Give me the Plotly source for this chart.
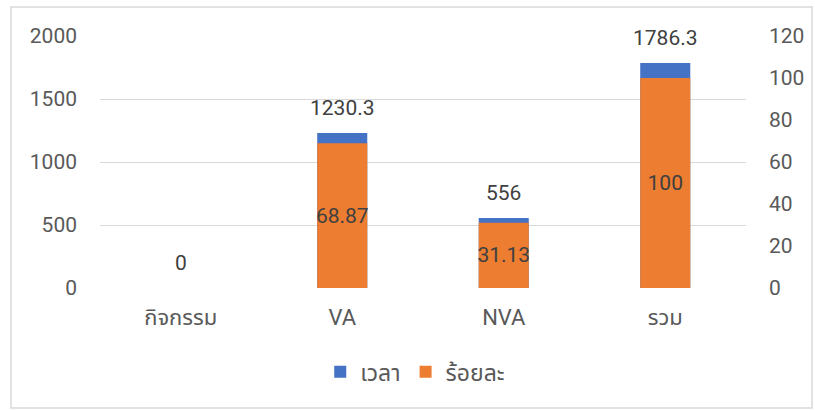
import plotly.graph_objects as go

categories = ["กิจกรรม", "VA", "NVA", "รวม"]
time_values = [0, 1230.3, 556, 1786.3]
percent_values = [0, 68.87, 31.13, 100]
series_names = ["เวลา", "ร้อยละ"]
left_ticks = [0, 500, 1000, 1500, 2000]
right_ticks = [0, 20, 40, 60, 80, 100, 120]

FONT = "Roboto, 'Noto Sans Thai', 'Noto Sans', sans-serif"
TXT = "#595959"
LBL = "#404040"

fig = go.Figure()
fig.add_trace(go.Bar(
    x=categories, y=time_values, name=series_names[0],
    marker=dict(color="#4472C4", line=dict(width=0)),
    width=0.31, offsetgroup="g", yaxis="y",
))
fig.add_trace(go.Bar(
    x=categories, y=percent_values, name=series_names[1],
    marker=dict(color="#ED7D31", line=dict(width=0)),
    width=0.31, offsetgroup="g", yaxis="y2",
    text=[f"{v:g}" if v else "" for v in percent_values],
    textposition="inside", insidetextanchor="middle",
    textangle=0, constraintext="none",
    textfont=dict(family=FONT, size=21, color=LBL),
))

for c, v in zip(categories, time_values):
    fig.add_annotation(x=c, y=v, xref="x", yref="y", text=f"{v:g}",
                       showarrow=False, yshift=25, yanchor="middle",
                       font=dict(family=FONT, size=21, color=LBL))

fig.update_layout(
    width=815, height=410,
    margin=dict(l=100, r=69, t=36, b=122),
    paper_bgcolor="white", plot_bgcolor="white",
    barmode="group", bargap=0.69,
    font=dict(family=FONT, size=21, color=TXT),
    xaxis=dict(showgrid=False, showline=False, ticks="",
               tickfont=dict(family=FONT, size=22, color=TXT),
               ticklabelstandoff=14),
    yaxis=dict(range=[0, 2000], tickvals=left_ticks, showgrid=True,
               gridcolor="#d9d9d9", gridwidth=1, zeroline=False,
               showline=False, ticks="", ticklabelstandoff=22,
               tickfont=dict(family=FONT, size=21, color=TXT)),
    yaxis2=dict(range=[0, 120], tickvals=right_ticks, overlaying="y",
                side="right", showgrid=False, zeroline=False, showline=False,
                ticks="", ticklabelstandoff=22,
                tickfont=dict(family=FONT, size=21, color=TXT)),
    legend=dict(orientation="h", x=0.488, xanchor="center", y=-0.333,
                yanchor="middle", font=dict(family=FONT, size=23, color=TXT),
                traceorder="normal"),
    showlegend=True,
)

fig.add_shape(type="rect", xref="paper", yref="paper",
              x0=(11 - 100) / 646, x1=(812 - 100) / 646,
              y0=(288 - 408) / 252, y1=(288 - 7) / 252,
              line=dict(color="#d9d9d9", width=1.5), fillcolor="rgba(0,0,0,0)",
              layer="below")

fig.write_html("out.html", config={"displayModeBar": False},
               post_script="document.body.style.margin='0';"
                           "document.body.style.overflow='hidden';")
